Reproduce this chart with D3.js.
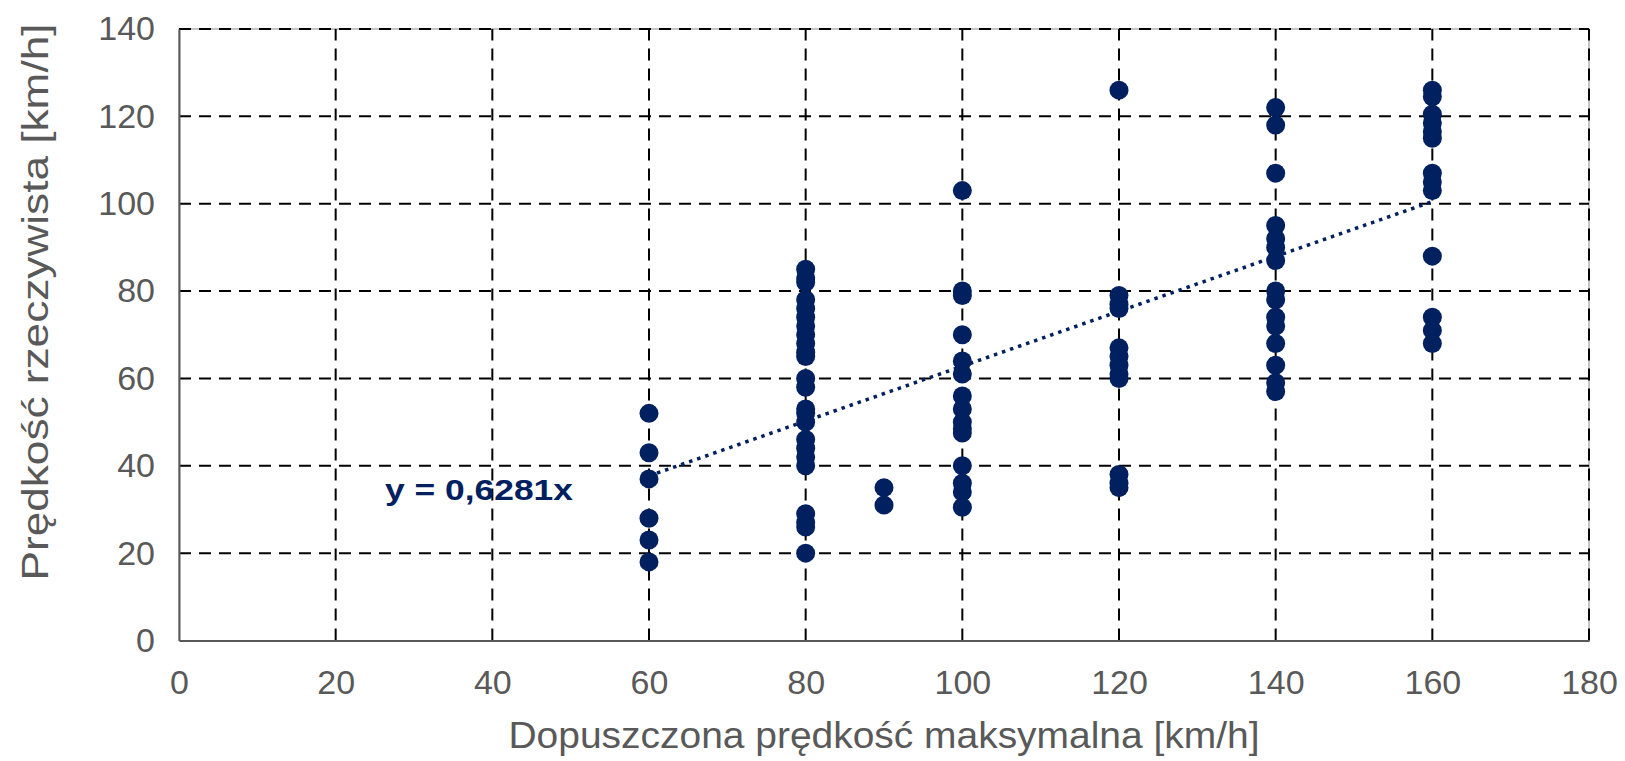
<!DOCTYPE html>
<html><head><meta charset="utf-8">
<script src="https://cdn.jsdelivr.net/npm/d3@7"></script>
<style>
html,body{margin:0;padding:0;background:#fff;}
text{font-family:"Liberation Sans",Arial,sans-serif;}
</style></head>
<body>
<svg id="chart" width="1625" height="761"></svg>
<script>
// ---- data ----
const xTicks = [0, 20, 40, 60, 80, 100, 120, 140, 160, 180];
const yTicks = [0, 20, 40, 60, 80, 100, 120, 140];
const limit60 = [52, 43, 37, 28, 23, 18];
const limit80 = [85, 83, 82, 78, 76, 74, 72, 70, 68, 66, 65, 60, 58, 53, 52, 50, 46, 44, 42, 40, 29, 27, 26, 20];
const limit90 = [35, 31];
const limit100 = [103, 80, 79, 70, 64, 61, 56, 53, 50, 48.5, 47.5, 40, 36, 34, 30.5];
const limit120 = [126, 79, 77, 76, 67, 65, 63, 61, 60, 38, 36, 35];
const limit140 = [122, 118, 107, 95, 92, 90, 87, 80, 78, 74, 72, 68, 63, 59, 57];
const limit160 = [126, 124.5, 120.5, 118.5, 116.5, 115, 107, 105, 103, 88, 74, 71, 68];
const slope = 0.6281;
const equationLabel = "y = 0,6281x";
const xTitle = "Dopuszczona prędkość maksymalna [km/h]";
const yTitle = "Prędkość rzeczywista [km/h]";

const groups = [[60, limit60], [80, limit80], [90, limit90], [100, limit100], [120, limit120], [140, limit140], [160, limit160]];
const points = groups.flatMap(([x, ys]) => ys.map(y => ({x, y})));

// ---- layout ----
const W = 1625, H = 761;
const m = {left: 179, right: 36, top: 29, bottom: 120.5};
const svg = d3.select("#chart");
const x = d3.scaleLinear().domain([0, 180]).range([m.left, W - m.right]);
const y = d3.scaleLinear().domain([0, 140]).range([H - m.bottom, m.top]);
const textCol = "#595959", navy = "#002060";

// border
svg.append("rect").attr("x", x(0)).attr("y", y(140)).attr("width", x(180) - x(0)).attr("height", y(0) - y(140))
  .attr("fill", "none").attr("stroke", "#8c8c8c").attr("stroke-width", 1);

// gridlines
svg.append("g").selectAll("line").data(yTicks.filter(d => d > 0)).join("line")
  .attr("x1", x(0)).attr("x2", x(180)).attr("y1", d => y(d)).attr("y2", d => y(d))
  .attr("stroke", "#000").attr("stroke-width", 2).attr("stroke-dasharray", "12 8");
svg.append("g").selectAll("line").data(xTicks.filter(d => d > 0)).join("line")
  .attr("y1", y(0)).attr("y2", y(140)).attr("x1", d => x(d)).attr("x2", d => x(d))
  .attr("stroke", "#000").attr("stroke-width", 2).attr("stroke-dasharray", "12 8");

// axes
const xAxis = svg.append("g").attr("transform", `translate(0,${y(0)})`)
  .call(d3.axisBottom(x).tickValues(xTicks).tickSize(0).tickPadding(29).tickFormat(d3.format("d")));
const yAxis = svg.append("g").attr("transform", `translate(${x(0)},0)`)
  .call(d3.axisLeft(y).tickValues(yTicks).tickSize(0).tickPadding(24).tickFormat(d3.format("d")));
[xAxis, yAxis].forEach(g => {
  g.select(".domain").attr("stroke", "#595959").attr("stroke-width", 2);
  g.selectAll("text").attr("fill", textCol).style("font-size", "34px").style("font-family", '"Liberation Sans",Arial,sans-serif');
});
xAxis.selectAll("text").attr("dy", "0.71em");

// trend line
const xs = points.map(p => p.x);
const [xmin, xmax] = d3.extent(xs);
svg.append("line")
  .attr("x1", x(xmin)).attr("y1", y(slope * xmin))
  .attr("x2", x(xmax)).attr("y2", y(slope * xmax))
  .attr("stroke", navy).attr("stroke-width", 3.5).attr("stroke-dasharray", "3.5 5");

// points
svg.append("g").selectAll("circle").data(points).join("circle")
  .attr("cx", d => x(d.x)).attr("cy", d => y(d.y)).attr("r", 9.5).attr("fill", navy);

// equation
svg.append("text").attr("x", 385).attr("y", 500).text(equationLabel)
  .attr("fill", navy).style("font-size", "30px").style("font-weight", "bold")
  .attr("textLength", 188).attr("lengthAdjust", "spacingAndGlyphs");

// titles
svg.append("text").attr("x", (x(0) + x(180)) / 2).attr("y", 748).attr("text-anchor", "middle")
  .attr("fill", textCol).style("font-size", "37px")
  .attr("textLength", 751).attr("lengthAdjust", "spacingAndGlyphs").text(xTitle);
svg.append("text").attr("transform", `translate(48,302) rotate(-90)`).attr("text-anchor", "middle")
  .attr("fill", textCol).style("font-size", "37px")
  .attr("textLength", 557).attr("lengthAdjust", "spacingAndGlyphs").text(yTitle);
</script>
</body></html>
